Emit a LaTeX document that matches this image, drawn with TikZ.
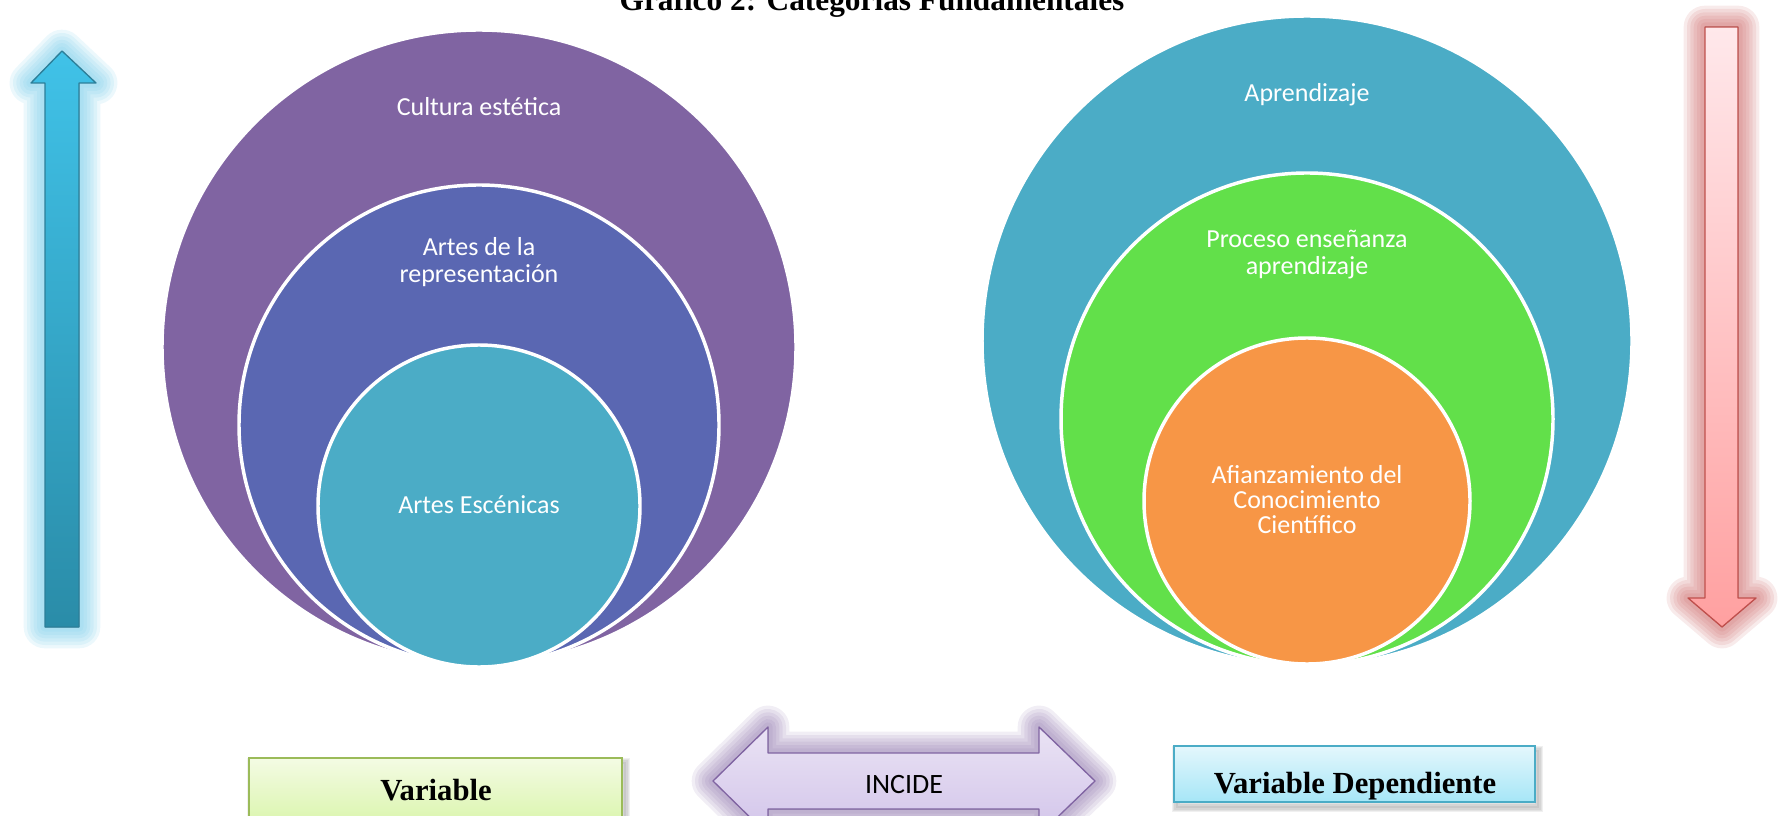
\documentclass[tikz,border=0pt]{standalone}
\usepackage{fontspec}
\setmainfont{Liberation Serif}
\newfontfamily\calibri{Carlito}
\definecolor{cpurple}{HTML}{8064A2}
\definecolor{cblue}{HTML}{5A67B2}
\definecolor{cteal}{HTML}{4BACC6}
\definecolor{cgreen}{HTML}{62E04A}
\definecolor{corange}{HTML}{F79646}
\definecolor{arrTop}{HTML}{40C2E8}
\definecolor{arrBot}{HTML}{2A8CA8}
\definecolor{arrLine}{HTML}{2C7F99}
\definecolor{glowBlue}{HTML}{6CC8E8}
\definecolor{redTop}{HTML}{FFE8EB}
\definecolor{redBot}{HTML}{FFA0A0}
\definecolor{redLine}{HTML}{C0504D}
\definecolor{glowRed}{HTML}{C85A5A}
\definecolor{lavTop}{HTML}{EAE3F4}
\definecolor{lavBot}{HTML}{D2C4EA}
\definecolor{grnTop}{HTML}{F4FBE4}
\definecolor{grnBot}{HTML}{D8F5A8}
\definecolor{grnLine}{HTML}{9BBB59}
\definecolor{cyTop}{HTML}{E4F7FC}
\definecolor{cyBot}{HTML}{A6E6F7}
\tikzset{
  ring/.style={draw=white, line width=2.6pt},
  ctext/.style={text=white, anchor=base, inner sep=0pt, font=\calibri\fontsize{19.5}{23}\selectfont},
  boxtext/.style={anchor=base, inner sep=0pt, font=\fontsize{23}{27}\selectfont\bfseries},
}
\def\uparrowpath{(45,627) -- (45,83) -- (31,83) -- (62,51) -- (96,83) -- (79,83) -- (79,627) -- cycle}
\def\downarrowpath{(1705,27) -- (1738,27) -- (1738,598) -- (1756,598) -- (1722,627) -- (1688,598) -- (1705,598) -- cycle}
\def\incidepath{(713,781) -- (768,727) -- (768,753) -- (1039,753) -- (1039,727) -- (1095,781) -- (1039,835) -- (1039,809) -- (768,809) -- (768,835) -- cycle}
\begin{document}
\begin{tikzpicture}[x=0.75pt,y=-0.75pt]
\useasboundingbox (0,0) rectangle (1780,816);
\clip (0,0) rectangle (1780,816);

% title (cut by the top edge)
\node[anchor=base, inner sep=0pt, font=\fontsize{23.5}{27}\selectfont\bfseries] (title) at (872,11) {Gráfico 2: Categorías Fundamentales};

% left circles
\path[ring, fill=cpurple] (479,347) circle[radius=317];
\path[ring, fill=cblue] (479,425) circle[radius=240];
\path[ring, fill=cteal] (479,506) circle[radius=161];
\node[ctext] (c1) at (479,116) {Cultura estética};
\node[ctext] (c2a) at (479,256) {Artes de la};
\node[ctext] (c2b) at (479,283) {representación};
\node[ctext] (c3) at (479,513) {Artes Escénicas};

% right circles
\path[ring, fill=cteal] (1307,341) circle[radius=325];
\path[ring, fill=cgreen] (1307,419) circle[radius=246];
\path[ring, fill=corange] (1307,501) circle[radius=163];
\node[ctext] (d1) at (1307,102) {Aprendizaje};
\node[ctext] (d2a) at (1307,248) {Proceso enseñanza};
\node[ctext] (d2b) at (1307,275) {aprendizaje};
\node[ctext] (d3a) at (1307,483) {Afianzamiento del};
\node[ctext] (d3b) at (1307,508) {Conocimiento};
\node[ctext] (d3c) at (1307,533) {Científico};

% left up arrow with glow
\foreach \w in {32,27,22,17,12,7}
  \draw[glowBlue, opacity=0.13, line width=\w pt, line join=round] \uparrowpath;
\fill[top color=arrTop, bottom color=arrBot] \uparrowpath;
\draw[arrLine, line width=1pt, line join=round] \uparrowpath;

% right down arrow with glow
\foreach \w in {32,27,22,17,12,7}
  \draw[glowRed, opacity=0.12, line width=\w pt, line join=round] \downarrowpath;
\fill[top color=redTop, bottom color=redBot] \downarrowpath;
\draw[redLine, line width=1pt, line join=round] \downarrowpath;

% INCIDE double arrow with glow
\foreach \w in {32,27,22,17,12,7}
  \draw[cpurple, opacity=0.11, line width=\w pt, line join=round] \incidepath;
\fill[top color=lavTop, bottom color=lavBot] \incidepath;
\draw[cpurple, line width=1pt, line join=round] \incidepath;
\node[anchor=base, inner sep=0pt, font=\calibri\fontsize{21}{25}\selectfont] (incide) at (904,793) {INCIDE};

% Variable box
\foreach \w in {8,6,4,2}
  \draw[black, opacity=0.06, line width=\w pt] (252,763) rectangle (625,835);
\fill[top color=grnTop, bottom color=grnBot] (249,758) rectangle (622,830);
\draw[grnLine, line width=1.4pt] (249,758) rectangle (622,830);
\node[boxtext] (v1) at (436,800) {Variable};

% Variable Dependiente box
\foreach \w in {8,6,4,2}
  \draw[black, opacity=0.06, line width=\w pt] (1177,751) rectangle (1538,807);
\fill[top color=cyTop, bottom color=cyBot] (1174,746) rectangle (1535,802);
\draw[cteal, line width=1.4pt] (1174,746) rectangle (1535,802);
\node[boxtext] (v2) at (1355,793) {Variable Dependiente};
\end{tikzpicture}
\end{document}
